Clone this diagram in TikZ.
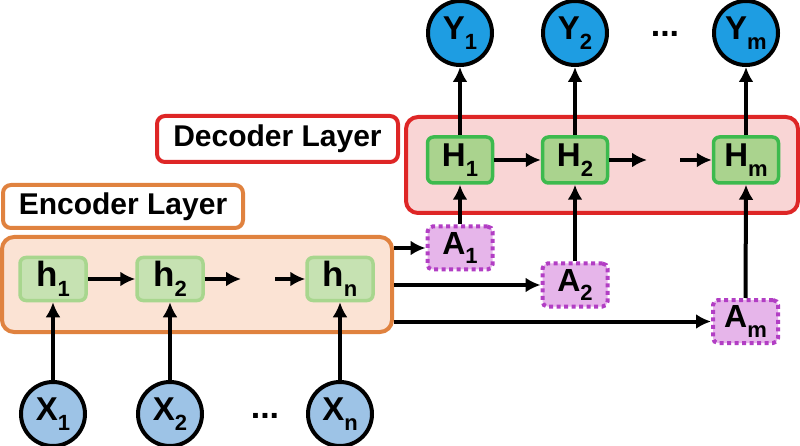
\documentclass[tikz,border=0pt]{standalone}
\usepackage{fontspec}
\setmainfont{Liberation Sans}
\usetikzlibrary{arrows.meta,positioning}
\definecolor{encline}{HTML}{E0823F}
\definecolor{encfill}{HTML}{FBE3D4}
\definecolor{decline}{HTML}{DE2626}
\definecolor{decfill}{HTML}{F9D5D5}
\definecolor{hline}{HTML}{A8D68E}
\definecolor{hfill}{HTML}{C6E2B2}
\definecolor{Hline}{HTML}{3DBA4E}
\definecolor{Hfill}{HTML}{AAD38E}
\definecolor{xfill}{HTML}{9DC3E6}
\definecolor{yfill}{HTML}{1E9DE2}
\definecolor{aline}{HTML}{B23EC4}
\definecolor{afill}{HTML}{E6B5EA}
\newcommand{\sbx}[1]{\raisebox{-.3em}{\fontsize{22}{22}\selectfont #1}}
\tikzset{
  layer/.style={rounded corners=12pt, line width=4pt, inner sep=0pt},
  title/.style={rounded corners=8pt, line width=4pt, fill=white, inner sep=0pt,
    font=\bfseries\fontsize{30}{30}\selectfont},
  enccell/.style={draw=hline, fill=hfill, rounded corners=6pt, line width=3.5pt,
    minimum width=66pt, minimum height=43pt, inner sep=0pt,
    font=\bfseries\fontsize{35}{35}\selectfont},
  deccell/.style={draw=Hline, fill=Hfill, rounded corners=6pt, line width=3.5pt,
    minimum width=65pt, minimum height=46pt, inner sep=0pt,
    font=\bfseries\fontsize{33}{33}\selectfont},
  attn/.style={draw=aline, fill=afill, rounded corners=5pt, line width=4pt,
    dash pattern=on 4pt off 3.5pt, minimum width=65pt, minimum height=43pt,
    inner sep=0pt, font=\bfseries\fontsize{32}{32}\selectfont},
  tok/.style={circle, draw, line width=4pt, minimum size=64pt, inner sep=0pt,
    font=\bfseries\fontsize{33}{33}\selectfont},
  dots/.style={anchor=base, font=\bfseries\fontsize{34}{34}\selectfont},
  link/.style={->, line width=4pt}
}
\begin{document}
\begin{tikzpicture}[x=1pt, y=-1pt, >={Latex[length=15pt,width=15pt]}]
\useasboundingbox (0,0) rectangle (800,446);
% layers
\node[layer, draw=encline, fill=encfill, minimum width=390pt, minimum height=95pt] (enc) at (197,284.5) {};
\node[layer, draw=decline, fill=decfill, minimum width=392pt, minimum height=96pt] (dec) at (602,165) {};
\node[title, draw=encline, minimum width=240pt, minimum height=43pt] (enclab) at (123,206.5) {Encoder Layer};
\node[title, draw=decline, minimum width=241pt, minimum height=46pt] (declab) at (277.5,139) {Decoder Layer};
% encoder
\node[enccell] (h1) at (53,279) {h\sbx{1}};
\node[enccell] (h2) at (170,279) {h\sbx{2}};
\node[enccell] (hn) at (340,279) {h\sbx{n}};
\node[tok, fill=xfill] (x1) at (53,414) {X\sbx{1}};
\node[tok, fill=xfill] (x2) at (170,414) {X\sbx{2}};
\node[tok, fill=xfill] (xn) at (340,414) {X\sbx{n}};
\node[dots] (xdots) at (265,418) {...};
% attention
\node[attn] (a1) at (460,248) {A\sbx{1}};
\node[attn] (a2) at (575,285) {A\sbx{2}};
\node[attn] (am) at (745.5,321.5) {A\sbx{m}};
% decoder
\node[deccell] (H1) at (460,160) {H\sbx{1}};
\node[deccell] (H2) at (575,160) {H\sbx{2}};
\node[deccell] (Hm) at (746,160) {H\sbx{m}};
\node[tok, fill=yfill] (y1) at (460,33) {Y\sbx{1}};
\node[tok, fill=yfill] (y2) at (575,33) {Y\sbx{2}};
\node[tok, fill=yfill] (ym) at (746,33) {Y\sbx{m}};
\node[dots] (ydots) at (665,37) {...};
\coordinate (encgapl) at (241,279);
\coordinate (encgapr) at (275,279);
\coordinate (decgapl) at (647,160);
\coordinate (decgapr) at (680,160);
% connectors
\foreach \s/\t in {x1/h1, x2/h2, xn/hn, a1/H1, a2/H2, am/Hm, H1/y1, H2/y2, Hm/ym}
{
    \draw[link] (\s.north) -- (\t.south);
}
\draw[link] (h1) -- (h2);
\draw[link] (h2) -- (encgapl);
\draw[link] (encgapr) -- (hn);
\draw[link] (H1) -- (H2);
\draw[link] (H2) -- (decgapl);
\draw[link] (decgapr) -- (Hm);
\foreach \t in {a1,a2,am}
{
    \draw[link] (enc.east |- \t.west) -- (\t.west);
}
\end{tikzpicture}
\end{document}
